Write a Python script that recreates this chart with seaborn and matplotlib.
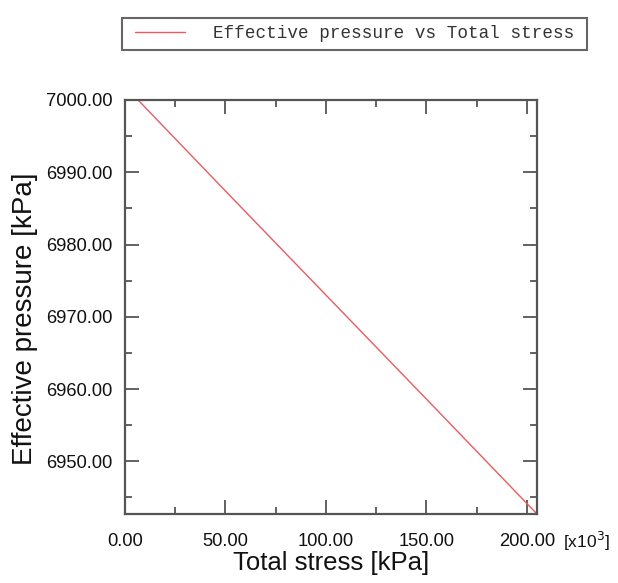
import matplotlib
matplotlib.use("Agg")
import matplotlib.pyplot as plt
import seaborn as sns
import pandas as pd
from matplotlib.patches import Rectangle
from matplotlib.ticker import MultipleLocator, FormatStrFormatter

# Data (x in units of 10^3 kPa)
total_stress = [6.5, 50.0, 100.0, 150.0, 205.0]
effective_pressure = [7000.0, 6987.4, 6973.0, 6958.6, 6942.7]
series_name = "Effective pressure vs Total stress"
x_label = "Total stress [kPa]"
y_label = "Effective pressure [kPa]"

sns.set_theme(style="white")
plt.rcParams['font.family'] = ['Liberation Sans', 'DejaVu Sans']

df = pd.DataFrame({"x": total_stress, "y": effective_pressure, "s": series_name})

W, H = 618, 583
fig = plt.figure(figsize=(W/100, H/100), dpi=100)
ax = fig.add_axes([125/W, 1-514/H, (537-125)/W, (514-100)/H])

sns.lineplot(data=df, x="x", y="y", hue="s", palette=["#ea5b60"], linewidth=1.0, ax=ax)

ax.set_xlim(0, 205)
ax.set_ylim(6942.7, 7000)
ax.xaxis.set_major_locator(MultipleLocator(50))
ax.xaxis.set_minor_locator(MultipleLocator(25))
ax.yaxis.set_major_locator(MultipleLocator(10))
ax.yaxis.set_minor_locator(MultipleLocator(5))
ax.xaxis.set_major_formatter(FormatStrFormatter("%.2f"))
ax.yaxis.set_major_formatter(FormatStrFormatter("%.2f"))

spine_c = "#555555"
for s in ax.spines.values():
    s.set_color(spine_c)
    s.set_linewidth(1.6)
ax.tick_params(which="both", direction="in", top=True, right=True, bottom=True, left=True,
               color=spine_c, width=1.3, labelsize=13.2, labelcolor="#111111")
ax.tick_params(which="major", length=10)
ax.tick_params(which="minor", length=5)
ax.tick_params(axis="x", which="major", pad=14)
ax.tick_params(axis="y", which="major", pad=9)

ax.set_xlabel(x_label, fontsize=18.5, color="#111111")
ax.xaxis.set_label_coords(331/W, 1-563/H, transform=fig.transFigure)
ax.xaxis.label.set_va("center")
ax.set_ylabel(y_label, fontsize=20, color="#111111")
ax.yaxis.set_label_coords(25/W, 1-319/H, transform=fig.transFigure)
ax.yaxis.label.set_va("center")

fig.text(563/W, 1-541/H, "[x10$^3$]", fontsize=12.5, color="#111111", va="center", ha="left")

fs = 12.7
px = fs * 100 / 72
leg = ax.legend(loc="center left", bbox_to_anchor=(135/W, 1-34/H),
                bbox_transform=fig.transFigure, frameon=False,
                handlelength=50/px, handletextpad=28/px,
                borderpad=0, borderaxespad=0,
                prop={"family": "Liberation Mono", "size": fs})
for t in leg.get_texts():
    t.set_color("#333333")
fig.patches.append(Rectangle((122/W, 1-50/H), 465/W, 32/H, transform=fig.transFigure,
                             fill=False, edgecolor="#666666", linewidth=1.5))

fig.savefig("out.png", dpi=100)
